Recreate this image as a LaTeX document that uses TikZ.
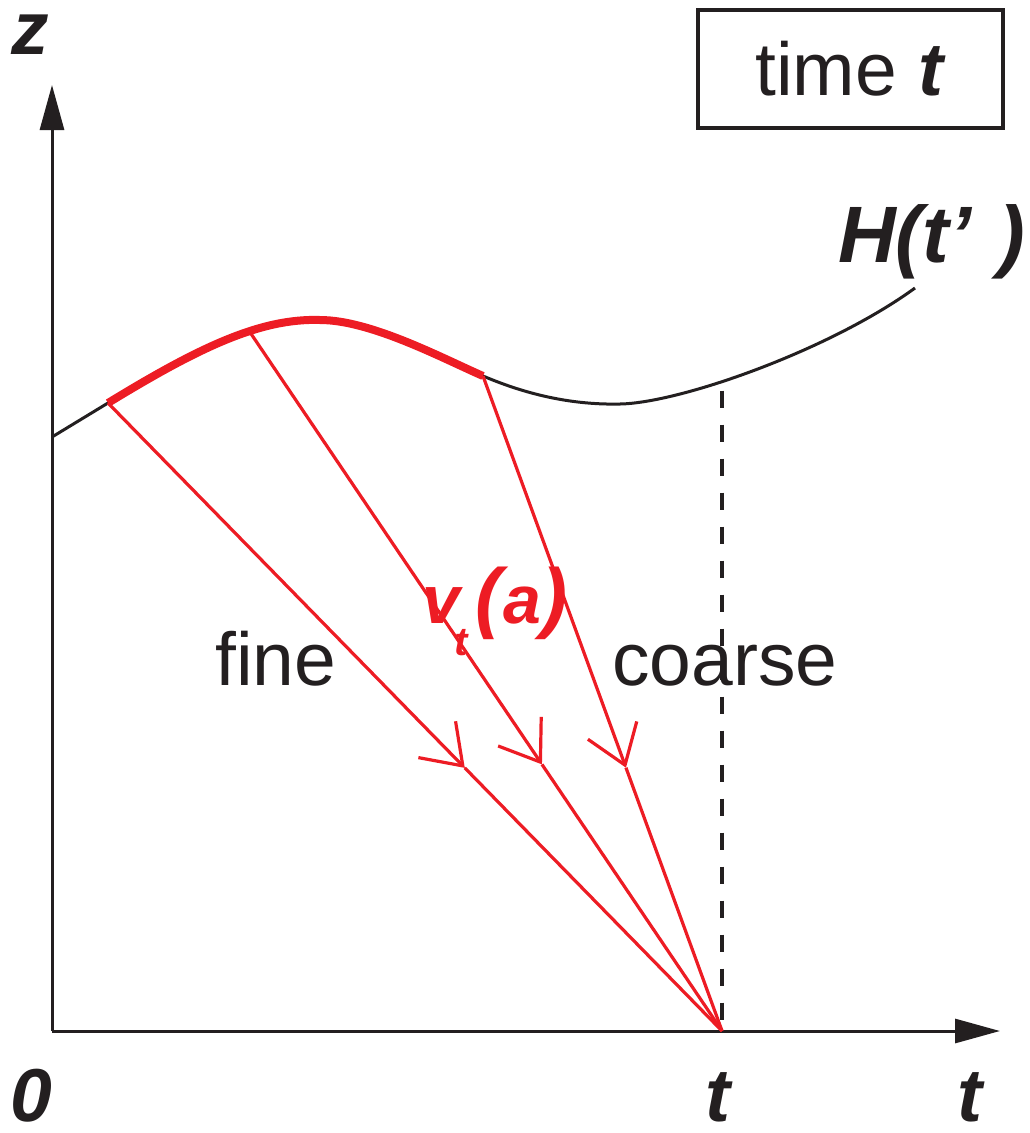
\documentclass[tikz,border=0pt]{standalone}
\usepackage{fontspec}
\setmainfont{Liberation Sans}
\usetikzlibrary{arrows.meta,calc}
\definecolor{redc}{RGB}{237,28,36}
\definecolor{blk}{RGB}{35,31,32}
\begin{document}
\begin{tikzpicture}[x=1pt,y=-1pt,
 axis/.style={blk, line width=3pt, -{Triangle[length=45pt,width=24pt]}},
 curve/.style={blk, line width=3pt},
 thickred/.style={redc, line width=8pt},
 ray/.style={redc, line width=3.2pt},
 rayarrow/.style={ray, -{Straight Barb[length=37pt,width=52pt]}},
 lbl/.style={font=\fontsize{75}{80}\selectfont, text=blk, inner sep=0pt},
 bilbl/.style={font=\fontsize{75}{80}\selectfont\bfseries\itshape, text=blk, inner sep=0pt},
]
\useasboundingbox (0,0) rectangle (1030,1133);
% axes
\coordinate (O) at (52,1031);
\coordinate (Ytip) at (52,85);
\coordinate (Xtip) at (1000,1031);
\draw[axis] (O) -- (Ytip);
\draw[axis] (O) -- (Xtip);
% curve points
\coordinate (S) at (52,437);
\coordinate (A) at (108,403);
\coordinate (P) at (320,320);
\coordinate (C) at (483,376);
\coordinate (Q) at (620,404);
\coordinate (E) at (915,288);
\path (A) .. controls (198,348) and (260,318) .. (P) coordinate[pos=0.62] (B);
\path (Q) .. controls (680,403) and (830,350) .. (E) coordinate[pos=0.39] (D);
\draw[curve] (S) -- (A) .. controls (198,348) and (260,318) .. (P)
  .. controls (370,320) and (440,357) .. (C)
  .. controls (530,396) and (575,405) .. (Q)
  .. controls (680,403) and (830,350) .. (E);
\draw[thickred] (A) .. controls (198,348) and (260,318) .. (P)
  .. controls (370,320) and (440,357) .. (C);
% dashed
\coordinate (T) at (D |- O);
\draw[blk, line width=3.5pt, dash pattern=on 17pt off 17pt, dash phase=-9pt] (D) -- (T);
% rays
\coordinate (M1) at ($(A)!0.581!(T)$);
\coordinate (M2) at ($(B)!0.619!(T)$);
\coordinate (M3) at ($(C)!0.598!(T)$);
\draw[rayarrow] (A) -- (M1);
\draw[ray] (M1) -- (T);
\draw[rayarrow] (B) -- (M2);
\draw[ray] (M2) -- (T);
\draw[rayarrow] (C) -- (M3);
\draw[ray] (M3) -- (T);
% labels
\node[bilbl, anchor=base] (zl) at (30,54) {z};
\node[bilbl, anchor=base] (zero) at (31,1121) {0};
\node[bilbl, anchor=base] (t1) at (718,1121) {t};
\node[bilbl, anchor=base] (t2) at (970,1121) {t};
\node[bilbl, anchor=base west, font=\fontsize{80}{80}\selectfont\bfseries\itshape] (H) at (838,262) {H(t'\hspace{27pt})};
\node[lbl, anchor=base west] (fine) at (215,685) {fine};
\node[lbl, anchor=base west] (coarse) at (612,685) {coarse};
\node[bilbl, anchor=base west, text=redc, font=\fontsize{68}{68}\selectfont\bfseries\itshape] (v) at (422,623)
  {v\kern-6pt\raisebox{-32pt}{\fontsize{40}{40}\selectfont t}\kern8pt{\fontsize{78}{78}\selectfont(}\kern2pt a{\fontsize{78}{78}\selectfont)}};
\node[lbl, draw=blk, line width=3.3pt, minimum width=305pt, minimum height=118pt] (box) at (850.5,69) {time \textbf{\textit{t}}};
\end{tikzpicture}
\end{document}
